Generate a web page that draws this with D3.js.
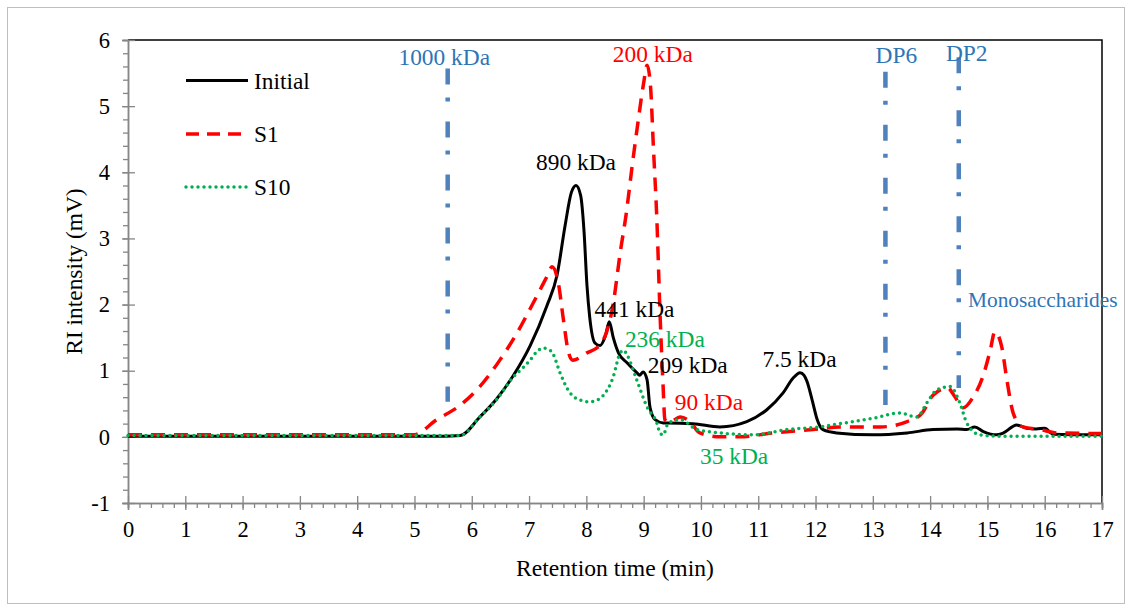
<!DOCTYPE html>
<html>
<head>
<meta charset="utf-8">
<script src="https://cdn.jsdelivr.net/npm/d3@7"></script>
<style>
  body { margin: 0; background: #fff; }
  svg, svg text { font-family: "Liberation Serif", "Times New Roman", Tinos, "DejaVu Serif", serif; }
</style>
</head>
<body>
<svg id="chart" width="1132" height="608"></svg>
<script>
// retention time (min) / RI intensity (mV)
const initialT = [0,2,4,5.5,5.8,6.14,6.44,6.72,7.02,7.31,7.49,7.63,7.74,7.82,7.9,7.96,8.01,8.06,8.15,8.24,8.33,8.40,8.47,8.56,8.71,8.88,8.93,8.99,9.06,9.11,9.2,9.34,9.41,9.86,10.33,10.8,11.15,11.43,11.61,11.73,11.8,11.85,11.94,12.03,12.13,12.37,13.0,13.6,14.05,14.47,14.64,14.78,14.93,15.16,15.28,15.51,15.69,15.85,16.0,16.15,17];
const initialY = [0.01,0.01,0.01,0.01,0.02,0.3,0.58,0.92,1.38,1.98,2.45,3.2,3.7,3.8,3.65,3.1,2.3,1.8,1.42,1.38,1.52,1.74,1.5,1.27,1.12,0.97,0.93,0.98,0.86,0.45,0.26,0.21,0.21,0.2,0.15,0.23,0.41,0.66,0.89,0.97,0.93,0.84,0.56,0.26,0.11,0.06,0.03,0.06,0.11,0.12,0.11,0.15,0.08,0.03,0.06,0.18,0.13,0.12,0.13,0.04,0.03];

const s1T = [0,2,4,4.98,5.39,5.8,6.14,6.49,6.79,7.07,7.31,7.40,7.51,7.60,7.68,7.76,8.01,8.24,8.47,8.59,8.7,8.8,8.9,9.0,9.06,9.12,9.17,9.23,9.29,9.34,9.37,9.45,9.64,9.81,9.98,10.33,10.68,11.26,11.96,12.43,13.13,13.6,13.86,14.05,14.31,14.43,14.58,14.75,14.92,15.05,15.13,15.25,15.34,15.45,15.62,15.92,16.21,17];
const s1Y = [0.03,0.03,0.03,0.03,0.26,0.48,0.76,1.16,1.57,2.02,2.42,2.57,2.33,1.77,1.31,1.16,1.27,1.39,2.02,2.78,3.4,4.1,4.75,5.35,5.62,5.3,4.38,3.3,1.77,0.76,0.26,0.22,0.3,0.23,0.06,0.0,0.0,0.06,0.11,0.15,0.15,0.23,0.36,0.63,0.74,0.61,0.44,0.6,0.91,1.31,1.59,1.36,0.86,0.36,0.15,0.11,0.06,0.05];

const s10T = [0,2,4,5.8,6.14,6.44,6.72,6.9,7.02,7.15,7.25,7.35,7.42,7.54,7.71,7.85,8.06,8.2,8.29,8.47,8.59,8.65,8.71,8.88,9.06,9.23,9.29,9.34,9.43,9.64,9.93,10.33,10.91,11.5,12.08,12.43,13.0,13.47,13.77,13.94,14.12,14.35,14.52,14.64,14.87,15.2,17];
const s10Y = [0.02,0.02,0.02,0.02,0.3,0.57,0.9,1.05,1.16,1.3,1.34,1.32,1.25,0.97,0.67,0.57,0.53,0.56,0.62,0.91,1.27,1.31,1.24,0.86,0.45,0.21,0.05,0.03,0.21,0.26,0.11,0.06,0.03,0.11,0.15,0.2,0.28,0.36,0.3,0.51,0.71,0.76,0.51,0.21,0.03,0.01,0.01];

const seriesNames = ["Initial", "S1", "S10"];

// reference markers (time, from, to)
const refNames = ["1000 kDa", "DP6", "DP2"];
const refT = [5.58, 13.22, 14.5];
const refFrom = [0.53, 0.48, 0.74];
const refTo = [5.57, 5.52, 5.74];

// peak labels anchored in data units
const noteText = ["890 kDa", "200 kDa", "441 kDa", "236 kDa", "209 kDa", "7.5 kDa", "90 kDa", "35 kDa"];
const noteT = [7.82, 9.16, 8.84, 9.37, 9.77, 11.72, 10.14, 10.58];
const noteY = [4.03, 5.67, 1.81, 1.36, 0.97, 1.06, 0.41, -0.41];
const noteSeries = [0, 1, 0, 2, 0, 0, 1, 2];

const xTicks = d3.range(0, 18, 1);
const yTicks = d3.range(-1, 7, 1);

const FONT = "'Liberation Serif', 'Times New Roman', Tinos, 'DejaVu Serif', serif";
const colors = ["#000000", "#ff0000", "#00b050"];
const refColor = "#4f81bd";
const refText = "#2e75b6";

const svg = d3.select("#chart").attr("font-family", FONT);
const x = d3.scaleLinear().domain([0, 17]).range([128, 1102]);
const y = d3.scaleLinear().domain([-1, 6]).range([503, 40]);

// outer frame
svg.append("rect")
  .attr("x", 7.5).attr("y", 7.5).attr("width", 1117).attr("height", 596)
  .attr("fill", "none").attr("stroke", "#bfbfbf").attr("stroke-width", 1);

// top / right border
svg.append("path")
  .attr("d", `M${x(0)},${y(6)}H${x(17)}V${y(-1)}`)
  .attr("fill", "none").attr("stroke", "#000").attr("stroke-width", 1.5);

// y axis
const yMinor = svg.append("g").attr("transform", `translate(${x(0)},0)`)
  .call(d3.axisLeft(y).tickValues(d3.range(-1, 6.01, 0.2)).tickSize(5).tickFormat(""));
const yAxis = svg.append("g").attr("transform", `translate(${x(0)},0)`)
  .call(d3.axisLeft(y).tickValues(yTicks).tickSize(6).tickPadding(12).tickFormat(d => String(d)));
yAxis.selectAll(".tick line").attr("x1", 7);

// x axis
const xMinor = svg.append("g").attr("transform", `translate(0,${y(-1)})`)
  .call(d3.axisBottom(x).tickValues(d3.range(0, 17.01, 0.2)).tickSize(5).tickFormat(""));
const xAxis = svg.append("g").attr("transform", `translate(0,${y(-1)})`)
  .call(d3.axisBottom(x).tickValues(xTicks).tickSize(7).tickPadding(11).tickFormat(d => String(d)));
xAxis.selectAll(".tick line").attr("y1", -7);

[yMinor, yAxis, xMinor, xAxis].forEach(g => {
  g.attr("font-family", FONT).attr("font-size", 22.5);
  g.select(".domain").attr("stroke", "#868686").attr("stroke-width", 1.5);
  g.selectAll(".tick line").attr("stroke", "#868686").attr("stroke-width", 1.3);
  g.selectAll("text").attr("fill", "#000");
});

// axis titles
svg.append("text")
  .attr("x", x(8.5)).attr("y", 576)
  .attr("text-anchor", "middle").attr("font-size", 23.6)
  .text("Retention time (min)");
svg.append("text")
  .attr("transform", `translate(82,${y(2.5)}) rotate(-90)`)
  .attr("text-anchor", "middle").attr("font-size", 23.4)
  .text("RI intensity (mV)");

// reference lines
refT.forEach((t, i) => {
  svg.append("line")
    .attr("x1", x(t)).attr("x2", x(t))
    .attr("y1", y(refTo[i])).attr("y2", y(refFrom[i]))
    .attr("stroke", refColor).attr("stroke-width", 4.5)
    .attr("stroke-dasharray", "16,13,4,20");
});
const refLabelT = [5.52, 13.41, 14.64];
const refLabelY = [5.62, 5.65, 5.68];
refNames.forEach((n, i) => {
  svg.append("text")
    .attr("x", x(refLabelT[i])).attr("y", y(refLabelY[i]))
    .attr("text-anchor", "middle").attr("font-size", 23.4).attr("fill", refText)
    .text(n);
});
svg.append("text")
  .attr("x", x(14.66)).attr("y", y(1.96))
  .attr("font-size", 21.4).attr("fill", refText)
  .text("Monosaccharides");

// curves
const line = d3.line().x(d => x(d[0])).y(d => y(d[1])).curve(d3.curveMonotoneX);
const series = [
  d3.zip(initialT, initialY),
  d3.zip(s1T, s1Y),
  d3.zip(s10T, s10Y)
];
const dash = [null, "14,9", "0,6"];
const widths = [3, 3.5, 3.5];
series.forEach((pts, i) => {
  svg.append("path")
    .datum(pts)
    .attr("d", line)
    .attr("fill", "none")
    .attr("stroke", colors[i])
    .attr("stroke-width", widths[i])
    .attr("stroke-linecap", i === 2 ? "round" : "butt")
    .attr("stroke-linejoin", "round")
    .attr("stroke-dasharray", dash[i]);
});

// peak labels
noteText.forEach((t, i) => {
  svg.append("text")
    .attr("x", x(noteT[i])).attr("y", y(noteY[i]))
    .attr("text-anchor", "middle").attr("font-size", 23.4)
    .attr("fill", colors[noteSeries[i]])
    .text(t);
});

// legend
const legendY = [80.5, 134, 187];
seriesNames.forEach((n, i) => {
  svg.append("line")
    .attr("x1", 186).attr("x2", 248)
    .attr("y1", legendY[i]).attr("y2", legendY[i])
    .attr("stroke", colors[i]).attr("stroke-width", widths[i])
    .attr("stroke-linecap", i === 2 ? "round" : "butt")
    .attr("stroke-dasharray", i === 1 ? "13,8" : dash[i]);
  svg.append("text")
    .attr("x", 254).attr("y", legendY[i] + 8)
    .attr("font-size", 23.4)
    .text(n);
});
</script>
</body>
</html>
